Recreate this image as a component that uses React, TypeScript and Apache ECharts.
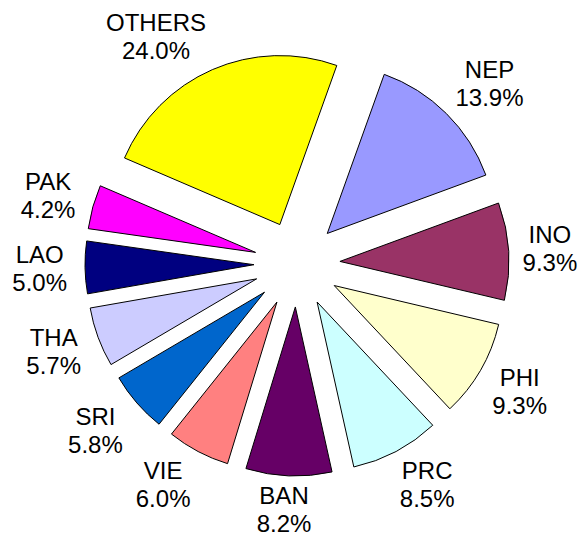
import React, { useEffect, useRef } from 'react';
import * as echarts from 'echarts';

const categories = ['NEP', 'INO', 'PHI', 'PRC', 'BAN', 'VIE', 'SRI', 'THA', 'LAO', 'PAK', 'OTHERS'];
const shares = [13.9, 9.3, 9.3, 8.5, 8.2, 6.0, 5.8, 5.7, 5.0, 4.2, 24.0];
const colors = ['#9999FF', '#993366', '#FFFFCC', '#CCFFFF', '#660066', '#FF8080', '#0066CC', '#CCCCFF', '#000080', '#FF00FF', '#FFFF00'];

const CENTER: [number, number] = [297, 264];
const RADIUS = 169;
const EXPLODE = 43;
const START_ANGLE = 70.3;
const LABEL_CX = 295;
const LABEL_RX = 228;
const LABEL_RY = 218;
const FONT_SIZE = 24;
const LINE_HEIGHT = 28;
const LABEL_NUDGE: Record<string, [number, number]> = { OTHERS: [-8, 0] };
const FONT = '"Liberation Sans", Arial, sans-serif';

const pct = (v: number) => `${v.toFixed(1)}%`;

export default function App() {
  const ref = useRef<HTMLDivElement>(null);
  useEffect(() => {
    const chart = echarts.init(ref.current!, null, { renderer: 'svg' });
    const total = shares.reduce((a, b) => a + b, 0);
    const mids: number[] = [];
    let acc = 0;
    shares.forEach((v) => {
      mids.push(acc + v / 2);
      acc += v;
    });
    const ctx = document.createElement('canvas').getContext('2d')!;
    ctx.font = `${FONT_SIZE}px ${FONT}`;
    const h = LINE_HEIGHT * 2;
    const clamp = (v: number, k: number) => Math.max(-1, Math.min(1, v * k));
    const labels = categories.map((name, i) => {
      const text = `${name}\n${pct(shares[i])}`;
      const w = Math.max(ctx.measureText(name).width, ctx.measureText(pct(shares[i])).width);
      const theta = ((90 - START_ANGLE + (mids[i] / total) * 360) * Math.PI) / 180;
      const s = Math.sin(theta);
      const c = Math.cos(theta);
      const n = LABEL_NUDGE[name] || [0, 0];
      return {
        type: 'text',
        silent: true,
        x: LABEL_CX + LABEL_RX * s + (w / 2) * clamp(s, 2) + n[0],
        y: CENTER[1] - LABEL_RY * c - (h / 2) * clamp(c, 1.3) + n[1],
        style: {
          text,
          fill: '#000',
          fontSize: FONT_SIZE,
          fontFamily: FONT,
          lineHeight: LINE_HEIGHT,
          align: 'center',
          verticalAlign: 'middle',
          textAlign: 'center',
          textVerticalAlign: 'middle',
        },
      };
    });
    chart.setOption({
      animation: false,
      graphic: labels,
      series: [
        {
          type: 'pie',
          center: CENTER,
          radius: RADIUS,
          startAngle: START_ANGLE,
          clockwise: true,
          selectedMode: 'multiple',
          selectedOffset: EXPLODE,
          silent: true,
          itemStyle: { borderColor: '#000', borderWidth: 1 },
          select: { itemStyle: { borderColor: '#000', borderWidth: 1 } },
          emphasis: { disabled: true },
          label: { show: false },
          labelLine: { show: false },
          data: categories.map((name, i) => ({
            name,
            value: shares[i],
            selected: true,
            itemStyle: { color: colors[i] },
          })),
        },
      ],
    });
    return () => chart.dispose();
  }, []);
  return <div ref={ref} style={{ position: 'absolute', left: 0, top: 0, width: 582, height: 536 }} />;
}
